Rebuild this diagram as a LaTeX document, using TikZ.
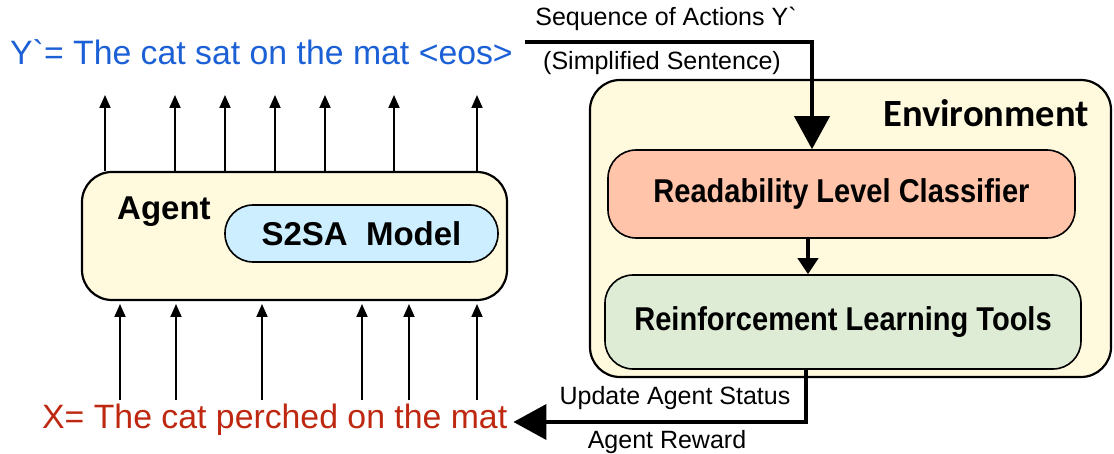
\documentclass[tikz,border=0pt]{standalone}
\usepackage{fontspec}
\setmainfont{Liberation Sans}
\newfontfamily\envfont{Carlito}
\usetikzlibrary{arrows.meta,calc}
\definecolor{ytext}{RGB}{28,96,214}
\definecolor{xtext}{RGB}{190,40,16}
\definecolor{boxyellow}{RGB}{255,250,221}
\definecolor{boxblue}{RGB}{204,238,255}
\definecolor{boxsalmon}{RGB}{255,196,170}
\definecolor{boxgreen}{RGB}{222,236,213}
\newcommand{\narrowtext}[1]{\scalebox{0.88}[1]{#1}}
\tikzset{
  panel/.style={draw=black, line width=2.2pt, rounded corners=30pt, inner sep=0pt},
  module/.style={draw=black, line width=1.6pt, rounded corners=28pt, inner sep=0pt,
    font=\fontsize{33}{36}\selectfont\bfseries},
  label/.style={inner sep=0pt, font=\fontsize{25}{28}\selectfont},
  sentence/.style={inner sep=0pt, font=\fontsize{33.8}{36}\selectfont},
  token/.style={line width=1.8pt, -{Triangle[length=13pt,width=11pt]}},
  flow/.style={line width=4pt, -{Triangle[length=33pt,width=35pt]}},
  link/.style={line width=4pt, -{Triangle[length=16pt,width=20pt]}}
}
\begin{document}
\begin{tikzpicture}[x=1pt,y=-1pt]
\useasboundingbox (0,0) rectangle (1114,454);

% agent side
\node[panel, fill=boxyellow, minimum width=425pt, minimum height=128pt] (agent) at (294.5,236) {};
\node[inner sep=0pt, font=\fontsize{33}{36}\selectfont\bfseries, anchor=west] (agentlbl) at (117,212) {Agent};
\node[module, fill=boxblue, minimum width=273pt, minimum height=57pt] (s2sa) at (361.5,233.5) {S2SA\ \ Model};

% output and input sentences
\node[sentence, text=ytext, anchor=west] (ys) at (10,52) {Y\textasciigrave= The cat sat on the mat <eos>};
\node[sentence, text=xtext, anchor=west] (xs) at (42,420) {X= The cat perched on the mat};

% output tokens
\foreach \i/\x in {1/105,2/175,3/225,4/275,5/325,6/394,7/477} {
  \coordinate (out\i) at (\x,95);
  \draw[token] (agent.north -| out\i) -- (out\i);
}
% input tokens
\foreach \i/\x in {1/120,2/176,3/262,4/362,5/409,6/477} {
  \coordinate (in\i) at (\x,400);
  \coordinate (intip\i) at (\x,304);
  \draw[token] (in\i) -- (intip\i);
}

% environment side
\node[panel, fill=boxyellow, minimum width=521pt, minimum height=297pt] (env) at (850.5,228.5) {};
\node[inner sep=0pt, font=\envfont\fontsize{38.5}{40}\selectfont\bfseries] (envlbl) at (986,113) {Environment};
\node[module, fill=boxsalmon, minimum width=467pt, minimum height=88pt] (rlc) at (841.5,194) {\narrowtext{Readability Level Classifier}};
\node[module, fill=boxgreen, minimum width=476pt, minimum height=94pt] (rlt) at (843,322) {\narrowtext{Reinforcement Learning Tools}};

% labels on the loop
\node[label] (seq) at (666,19) {Sequence of Actions Y\textasciigrave};
\node[label] (simp) at (662,63) {(Simplified Sentence)};
\node[label] (upd) at (675,398) {Update Agent Status};
\node[label] (rew) at (667,442) {Agent Reward};

% loop connectors
\coordinate (seqstart) at (525,42);
\coordinate (seqturn) at (812,42);
\draw[flow] (seqstart) -- (seqturn) -- (seqturn |- rlc.north);
\draw[link] (rlc.south -| 808,0) -- (rlt.north -| 808,0);
\coordinate (rewturn) at (806,422);
\draw[flow] (rlt.south -| rewturn) -- (rewturn) -- ($(xs.east |- rewturn)+(6,0)$);
\end{tikzpicture}
\end{document}
